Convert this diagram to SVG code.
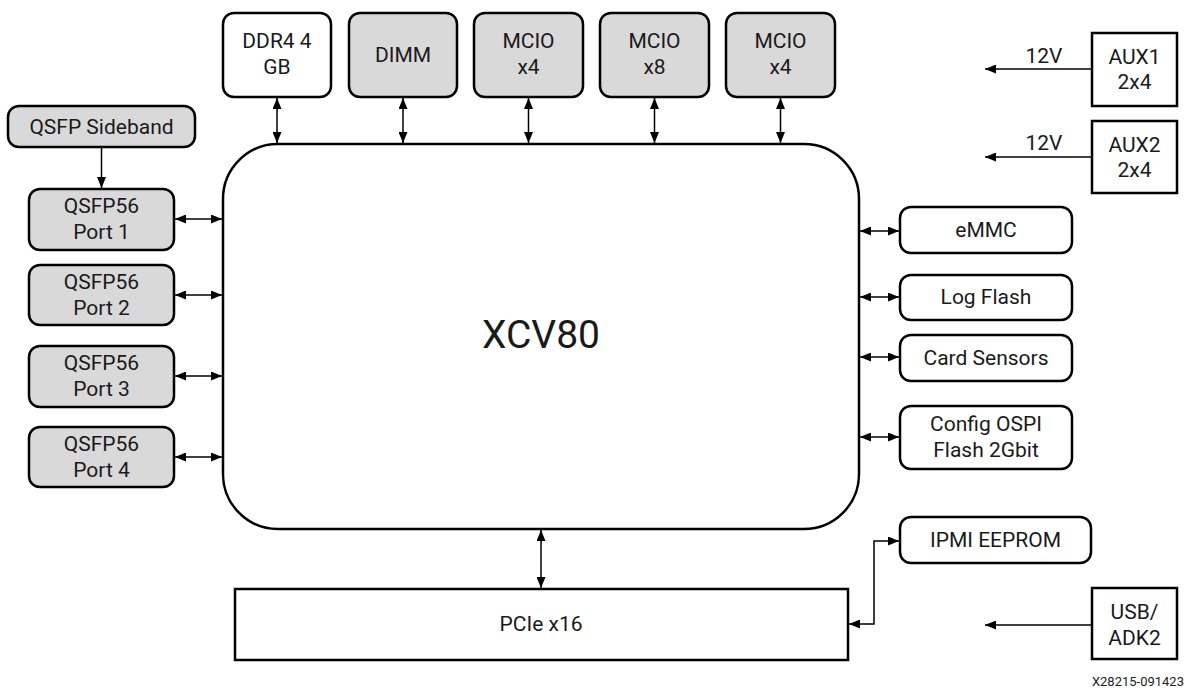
<svg xmlns="http://www.w3.org/2000/svg" width="1188" height="692" viewBox="0 0 1188 692">
<defs>
<marker id="ah" viewBox="0 0 11 9" refX="11" refY="4.5" markerWidth="11" markerHeight="9" markerUnits="userSpaceOnUse" orient="auto-start-reverse">
<path d="M0,0 L11,4.5 L0,9 z" fill="#000"/>
</marker>
<style>
.box{fill:#fff;stroke:#000;stroke-width:2.5}
.gray{fill:#d9d9d9;stroke:#000;stroke-width:2.5}
.t{font-family:Roboto,"Liberation Sans",sans-serif;font-size:21px;fill:#1a1a1a;text-anchor:middle}
.c{fill:none;stroke:#000;stroke-width:1.5}
.bi{marker-start:url(#ah);marker-end:url(#ah)}
.one{marker-end:url(#ah)}
</style>
</defs>
<rect width="1188" height="692" fill="#fff"/>

<g id="xcv80">
<rect class="box" x="223" y="144" width="636" height="385" rx="55" ry="55"/>
<text class="t" x="541" y="348" style="font-size:39px">XCV80</text>
</g>

<g id="ddr4">
<rect class="box" x="223" y="13" width="108" height="84" rx="11"/>
<text class="t" x="277" y="48">DDR4 4</text>
<text class="t" x="277" y="74">GB</text>
</g>
<g id="dimm">
<rect class="gray" x="349" y="13" width="108" height="84" rx="11"/>
<text class="t" x="403" y="62">DIMM</text>
</g>
<g id="mcio1">
<rect class="gray" x="474" y="13" width="109" height="84" rx="11"/>
<text class="t" x="528.5" y="48">MCIO</text>
<text class="t" x="528.5" y="74">x4</text>
</g>
<g id="mcio2">
<rect class="gray" x="600" y="13" width="109" height="84" rx="11"/>
<text class="t" x="654.5" y="48">MCIO</text>
<text class="t" x="654.5" y="74">x8</text>
</g>
<g id="mcio3">
<rect class="gray" x="726" y="13" width="109" height="84" rx="11"/>
<text class="t" x="780.5" y="48">MCIO</text>
<text class="t" x="780.5" y="74">x4</text>
</g>

<g id="qsfp-sideband">
<rect class="gray" x="8" y="106" width="187" height="41" rx="11"/>
<text class="t" x="101.5" y="134">QSFP Sideband</text>
</g>
<g id="qsfp1">
<rect class="gray" x="29" y="189" width="145" height="61" rx="11"/>
<text class="t" x="101.5" y="213">QSFP56</text>
<text class="t" x="101.5" y="239">Port 1</text>
</g>
<g id="qsfp2">
<rect class="gray" x="29" y="265" width="145" height="60" rx="11"/>
<text class="t" x="101.5" y="289">QSFP56</text>
<text class="t" x="101.5" y="315">Port 2</text>
</g>
<g id="qsfp3">
<rect class="gray" x="29" y="346" width="145" height="61" rx="11"/>
<text class="t" x="101.5" y="370">QSFP56</text>
<text class="t" x="101.5" y="396">Port 3</text>
</g>
<g id="qsfp4">
<rect class="gray" x="29" y="427" width="145" height="60" rx="11"/>
<text class="t" x="101.5" y="451">QSFP56</text>
<text class="t" x="101.5" y="477">Port 4</text>
</g>

<g id="aux1">
<rect class="box" x="1092" y="33" width="85" height="73"/>
<text class="t" x="1134.5" y="64">AUX1</text>
<text class="t" x="1134.5" y="89">2x4</text>
</g>
<g id="aux2">
<rect class="box" x="1092" y="121" width="85" height="72"/>
<text class="t" x="1134.5" y="152">AUX2</text>
<text class="t" x="1134.5" y="177">2x4</text>
</g>

<g id="emmc">
<rect class="box" x="900" y="207" width="172" height="46" rx="11"/>
<text class="t" x="986" y="237">eMMC</text>
</g>
<g id="logflash">
<rect class="box" x="900" y="275" width="172" height="45" rx="11"/>
<text class="t" x="986" y="304">Log Flash</text>
</g>
<g id="cardsensors">
<rect class="box" x="900" y="335" width="172" height="46" rx="11"/>
<text class="t" x="986" y="365">Card Sensors</text>
</g>
<g id="ospi">
<rect class="box" x="900" y="406" width="172" height="63" rx="11"/>
<text class="t" x="986" y="431">Config OSPI</text>
<text class="t" x="986" y="457">Flash 2Gbit</text>
</g>
<g id="ipmi">
<rect class="box" x="900" y="517" width="191" height="46" rx="11"/>
<text class="t" x="995.5" y="547">IPMI EEPROM</text>
</g>

<g id="pcie">
<rect class="box" x="235" y="589" width="613" height="71"/>
<text class="t" x="541" y="631">PCIe x16</text>
</g>
<g id="usb">
<rect class="box" x="1092" y="588" width="85" height="71"/>
<text class="t" x="1134.5" y="619">USB/</text>
<text class="t" x="1134.5" y="645">ADK2</text>
</g>

<g id="connectors">
<line class="c bi" x1="277" y1="98" x2="277" y2="143"/>
<line class="c bi" x1="403" y1="98" x2="403" y2="143"/>
<line class="c bi" x1="528.5" y1="98" x2="528.5" y2="143"/>
<line class="c bi" x1="654.5" y1="98" x2="654.5" y2="143"/>
<line class="c bi" x1="780.5" y1="98" x2="780.5" y2="143"/>
<line class="c one" x1="101.5" y1="148" x2="101.5" y2="188"/>
<line class="c bi" x1="175" y1="219" x2="222" y2="219"/>
<line class="c bi" x1="175" y1="295" x2="222" y2="295"/>
<line class="c bi" x1="175" y1="376" x2="222" y2="376"/>
<line class="c bi" x1="175" y1="457" x2="222" y2="457"/>
<line class="c bi" x1="860" y1="231" x2="899" y2="231"/>
<line class="c bi" x1="860" y1="297" x2="899" y2="297"/>
<line class="c bi" x1="860" y1="357" x2="899" y2="357"/>
<line class="c bi" x1="860" y1="437" x2="899" y2="437"/>
<line class="c bi" x1="541" y1="530" x2="541" y2="588"/>
<polyline class="c bi" points="849,624 874,624 874,541 899,541"/>
<line class="c one" x1="1091" y1="69" x2="985" y2="69"/>
<line class="c one" x1="1091" y1="157" x2="985" y2="157"/>
<line class="c one" x1="1091" y1="625" x2="985" y2="625"/>
<text class="t" x="1044" y="63">12V</text>
<text class="t" x="1044" y="150">12V</text>
</g>

<text x="1184" y="686" style="font-family:Roboto,'Liberation Sans',sans-serif;font-size:13px;fill:#222;text-anchor:end">X28215-091423</text>
</svg>
